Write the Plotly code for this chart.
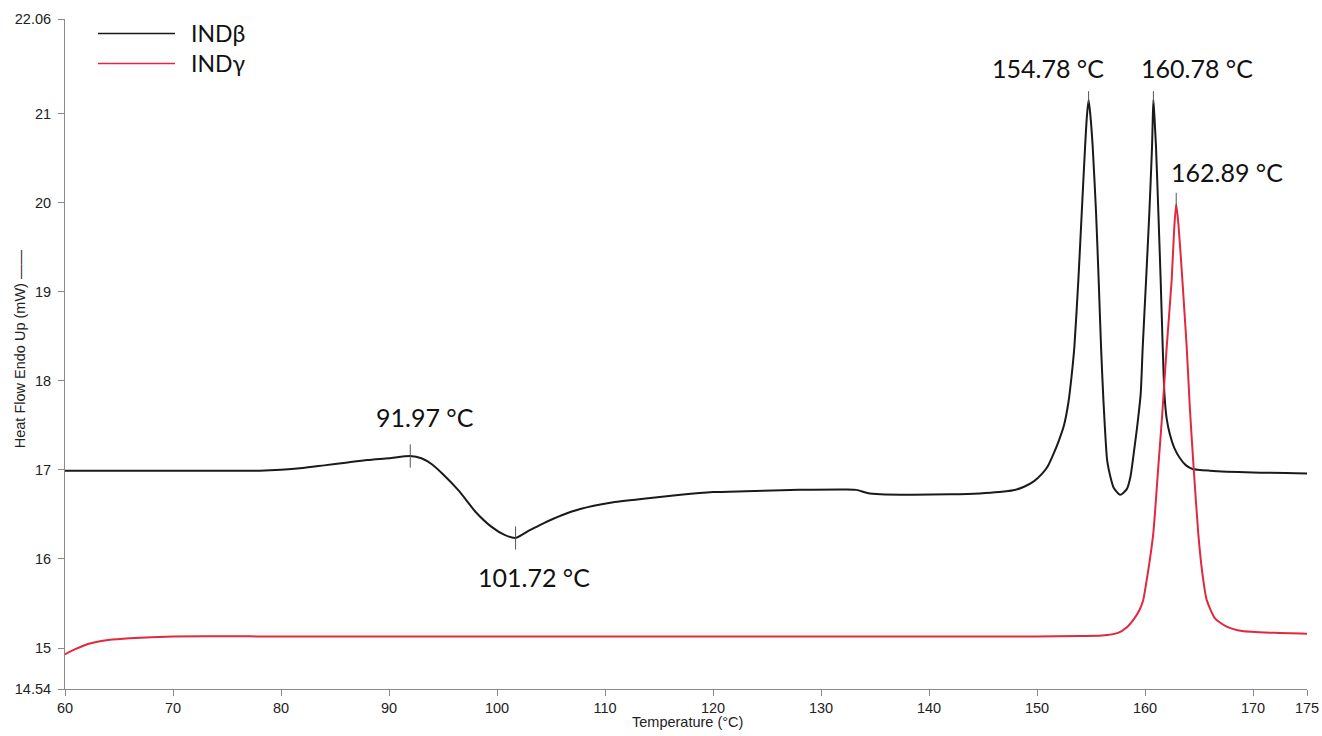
import plotly.graph_objects as go

# ---------------- data ----------------
beta_temp = [60, 65, 70, 75, 78, 80, 82, 84, 86, 88, 90, 91.97, 93, 94, 95, 96.5, 98, 99.5,
             100.7, 101.72, 103, 104.3, 106, 107.7, 110.5, 114, 117, 120, 123, 128, 132.4,
             133.3, 134.3, 135.5, 138.5, 142, 144.7, 146.5, 147.8, 148.8, 149.7, 150.5, 151.0,
             151.5, 152.0, 152.5, 152.9, 153.2, 153.46, 153.83, 154.14, 154.45, 154.62, 154.78,
             154.95, 155.16, 155.47, 155.71, 155.93, 156.15, 156.5, 156.8, 157.1, 157.7, 158.3,
             158.65, 158.92, 159.29, 159.6, 159.79, 160.1, 160.4, 160.65, 160.72, 160.78, 160.88,
             161.02, 161.24, 161.45, 161.64, 161.8, 162.0, 162.3, 162.7, 163.24, 163.8, 164.4,
             166, 170, 175]
beta_flow = [16.99, 16.99, 16.99, 16.99, 16.99, 17.00, 17.02, 17.05, 17.08, 17.11, 17.13, 17.155,
             17.13, 17.06, 16.95, 16.76, 16.53, 16.36, 16.27, 16.235, 16.32, 16.40, 16.49, 16.56,
             16.63, 16.68, 16.72, 16.75, 16.76, 16.775, 16.78, 16.775, 16.74, 16.725, 16.72, 16.725,
             16.735, 16.75, 16.77, 16.81, 16.87, 16.96, 17.04, 17.17, 17.32, 17.50, 17.75, 18.05,
             18.38, 19.13, 19.88, 20.62, 20.97, 21.15, 20.97, 20.62, 19.88, 19.13, 18.38, 17.78,
             17.10, 16.92, 16.80, 16.72, 16.78, 16.92, 17.15, 17.50, 17.85, 18.38, 19.13, 19.88,
             20.62, 20.95, 21.15, 20.95, 20.62, 19.88, 19.13, 18.38, 17.85, 17.58, 17.40, 17.25,
             17.13, 17.05, 17.01, 16.99, 16.97, 16.96]

gamma_temp = [60, 61, 62, 63, 64, 66, 70, 80, 100, 120, 130, 150, 154, 156, 157.5, 158.3, 159.0,
              159.5, 159.84, 160.1, 160.4, 160.77, 161.23, 161.6, 162.01, 162.47, 162.7, 162.89,
              163.1, 163.46, 163.86, 164.15, 164.5, 164.93, 165.3, 165.71, 166.5, 167.56, 169,
              172, 175]
gamma_flow = [14.93, 14.99, 15.04, 15.07, 15.09, 15.11, 15.13, 15.13, 15.13, 15.13, 15.13, 15.13,
              15.135, 15.14, 15.17, 15.23, 15.33, 15.43, 15.54, 15.72, 15.95, 16.29, 17.03, 17.63,
              18.38, 19.13, 19.70, 19.98, 19.75, 19.13, 18.38, 17.70, 17.03, 16.29, 15.85, 15.54,
              15.33, 15.24, 15.19, 15.17, 15.16]

series_names = ["INDβ", "INDγ"]
series_colors = ["#1a1a1a", "#e2283f"]

event_temps = [91.97, 101.72, 154.78, 160.78, 162.89]
event_vals = [17.155, 16.235, 21.15, 21.15, 19.98]
event_labels = ["91.97 °C", "101.72 °C", "154.78 °C", "160.78 °C", "162.89 °C"]

x_ticks = [60, 70, 80, 90, 100, 110, 120, 130, 140, 150, 160, 170, 175]
y_ticks = [14.54, 15, 16, 17, 18, 19, 20, 21, 22.06]
y_tick_text = ["14.54", "15", "16", "17", "18", "19", "20", "21", "22.06"]

# ---------------- styling ----------------
label_shift = [(15, 39), (18, -39), (-41, 32), (44, 32), (51, 32)]
marker_span = [(-0.13, 0.13), (-0.13, 0.13), (-0.04, 0.10), (-0.04, 0.10), (-0.03, 0.13)]

# plot area in page pixels (reference); page body margin is removed below
L, R, T, B = 65, 1307, 18.5, 689
W, H = R - L, B - T
FIG_W, FIG_H = 1322, 736

fig = go.Figure()
fig.add_trace(go.Scatter(x=beta_temp, y=beta_flow, mode="lines", name=series_names[0],
                         line=dict(color=series_colors[0], width=2, shape="spline", smoothing=0.6),
                         showlegend=False))
fig.add_trace(go.Scatter(x=gamma_temp, y=gamma_flow, mode="lines", name=series_names[1],
                         line=dict(color=series_colors[1], width=2, shape="spline", smoothing=0.6),
                         showlegend=False))

# peak markers and labels
for t, v, lab, (dx, dy), (lo, hi) in zip(event_temps, event_vals, event_labels, label_shift, marker_span):
    fig.add_shape(type="line", xref="x", yref="y", x0=t, x1=t, y0=v + lo, y1=v + hi,
                  line=dict(color="#555555", width=1))
    fig.add_annotation(x=t, y=v, xref="x", yref="y", text=lab, showarrow=False,
                       xshift=dx, yshift=dy, font=dict(family="Lato", size=25, color="#111111"))

# manual legend (long line samples as in the reference)
for i, (name, col) in enumerate(zip(series_names, series_colors)):
    py = 33 + 30 * i
    yp = 1 - (py - T) / H
    fig.add_shape(type="line", xref="paper", yref="paper",
                  x0=(98 - L) / W, x1=(175 - L) / W, y0=yp, y1=yp,
                  line=dict(color=col, width=1.5))
    fig.add_annotation(xref="paper", yref="paper", x=(189 - L) / W, y=yp, text=name,
                       showarrow=False, xanchor="left", yanchor="middle",
                       font=dict(family="Lato", size=23, color="#111111"))

axis_font = dict(family="Liberation Sans, Arial", size=14.5, color="#222222")

# axis titles as annotations so the plot area keeps the reference geometry
fig.add_annotation(xref="paper", yref="paper", x=(20 - L) / W, y=1 - (349 - T) / H,
                   text="Heat Flow Endo Up (mW) ——", textangle=-90, showarrow=False,
                   xanchor="center", yanchor="middle", font=axis_font)
fig.add_annotation(xref="paper", yref="paper", x=(687 - L) / W, y=1 - (722 - T) / H,
                   text="Temperature (°C)", showarrow=False,
                   xanchor="center", yanchor="middle", font=axis_font)

fig.update_layout(
    width=FIG_W, height=FIG_H, autosize=False,
    margin=dict(l=L, r=FIG_W - R, t=T, b=FIG_H - B, pad=0),
    plot_bgcolor="white", paper_bgcolor="white",
    showlegend=False,
    xaxis=dict(range=[60, 175], tickvals=x_ticks, ticktext=[str(v) for v in x_ticks],
               showgrid=False, zeroline=False, showline=True, linecolor="#8a8a8a", linewidth=1,
               ticks="outside", ticklen=6, tickcolor="#8a8a8a", tickfont=axis_font,
               automargin=False),
    yaxis=dict(range=[14.54, 22.06], tickvals=y_ticks, ticktext=y_tick_text,
               showgrid=False, zeroline=False, showline=True, linecolor="#8a8a8a", linewidth=1,
               ticks="outside", ticklen=6, tickcolor="#8a8a8a", tickfont=axis_font,
               ticklabelstandoff=4, automargin=False),
)

fig.write_html(
    "out.html",
    config={"displayModeBar": False},
    post_script="document.body.style.margin='0';document.body.style.overflow='hidden';",
)
